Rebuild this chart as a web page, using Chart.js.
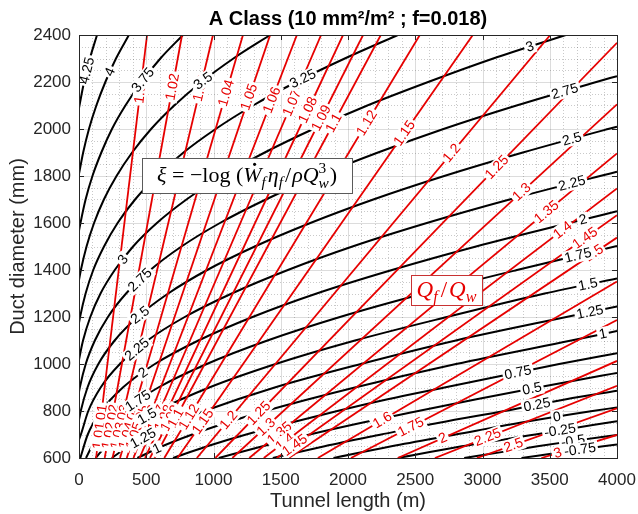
<!DOCTYPE html>
<html>
<head>
<meta charset="utf-8">
<script src="https://cdn.jsdelivr.net/npm/chart.js@4.4.1/dist/chart.umd.min.js"></script>
<style>
  html, body { margin: 0; padding: 0; background: #fff; }
  #wrap { width: 638px; height: 514px; }
</style>
</head>
<body>
<div id="wrap"><canvas id="chart" width="638" height="514"></canvas></div>
<script>
// black contours: xi = -log(W_f eta_f / rho Q_w^3), points [tunnel length m, duct diameter mm]
const xiLevels = [4.25, 4, 3.75, 3.5, 3.25, 3, 2.75, 2.5, 2.25, 2, 1.75, 1.5, 1.25, 1, 0.75, 0.5, 0.25, 0, -0.25, -0.5, -0.75];
const xiCurves = [
  [[0,2089],[20,2150],[38,2200],[81,2300],[134,2400]],
  [[0,1809],[31,1900],[74,2000],[129,2100],[196,2200],[275,2300],[371,2400]],
  [[0,1567],[11,1600],[49,1700],[100,1800],[166,1900],[245,2000],[345,2100],[464,2200],[605,2300],[773,2400]],
  [[0,1357],[14,1400],[56,1500],[112,1600],[185,1700],[279,1800],[395,1900],[536,2000],[708,2100],[911,2200],[1148,2300],[1421,2400]],
  [[0,1175],[8,1200],[49,1300],[106,1400],[186,1500],[287,1600],[417,1700],[580,1800],[777,1900],[1016,2000],[1294,2100],[1615,2200],[1976,2300],[2371,2400]],
  [[0,1017],[11,1050],[30,1100],[84,1200],[160,1300],[266,1400],[402,1500],[579,1600],[799,1700],[1066,1800],[1381,1900],[1742,2000],[2144,2100],[2596,2200],[3080,2300],[3619,2400]],
  [[0,881],[6,900],[50,1000],[118,1100],[215,1200],[350,1300],[530,1400],[762,1500],[1048,1600],[1389,1700],[1779,1800],[2223,1900],[2710,2000],[3253,2100],[3846,2200],[4000,2225]],
  [[0,763],[13,800],[63,900],[144,1000],[265,1100],[435,1200],[663,1300],[953,1400],[1307,1500],[1720,1600],[2188,1700],[2715,1800],[3300,1900],[3934,2000],[4000,2010]],
  [[0,678],[14,700],[69,800],[161,900],[304,1000],[509,1100],[786,1200],[1136,1300],[1553,1400],[2033,1500],[2586,1600],[3201,1700],[3874,1800],[4000,1818]],
  [[10,600],[65,700],[165,800],[326,900],[564,1000],[888,1100],[1290,1200],[1767,1300],[2327,1400],[2952,1500],[3645,1600],[4000,1650]],
  [[52,600],[96,650],[151,700],[228,750],[325,800],[590,900],[950,1000],[1401,1100],[1940,1200],[2564,1300],[3256,1400],[4000,1502]],
  [[124,600],[199,650],[298,700],[424,750],[578,800],[968,900],[1462,1000],[2052,1100],[2735,1200],[3462,1300],[4000,1364]],
  [[244,600],[368,650],[526,700],[713,750],[932,800],[1455,900],[2096,1000],[2802,1100],[3623,1200],[4000,1245]],
  [[434,600],[619,650],[842,700],[1097,750],[1385,800],[2051,900],[2803,1000],[3660,1100],[4000,1140]],
  [[699,600],[953,650],[1243,700],[1573,750],[1921,800],[2295,850],[2717,900],[3570,1000],[4000,1046]],
  [[1039,600],[1365,650],[1715,700],[2102,750],[2522,800],[2955,850],[3409,900],[3881,950],[4000,962]],
  [[1441,600],[1826,650],[2247,700],[2678,750],[3162,800],[3622,850],[4000,886]],
  [[1892,600],[2323,650],[2800,700],[3279,750],[3818,800],[4000,815]],
  [[2372,600],[2845,650],[3393,700],[3820,740],[4000,756]],
  [[2864,600],[3141,625],[3409,650],[3706,675],[4000,698]],
  [[3290,600],[3650,630],[4000,658]]
];
// label spots on the black contours: [level, tunnel length]
const xiLabels = [
  [4.25,59],[4,230],[3.75,476],[3.5,922],[3.25,1665],[3,3353],[3,327],
  [2.75,3613],[2.75,454],[2.5,3665],[2.5,454],[2.25,3665],[2.25,431],[2,3747],[2,476],
  [1.75,3710],[1.75,439],[1.5,3784],[1.5,506],[1.25,3799],[1.25,476],[1,3896],[1,580],
  [0.75,3264],[0.5,3368],[0.25,3405],[0,3554],[-0.25,3576],[-0.5,3673],[-0.75,3725]
];

// red contours: Q_f / Q_w, straight lines from the bottom edge to the top or right edge
const qLevels  = [1.01,1.02,1.03,1.04,1.05,1.06,1.07,1.08,1.09,1.1,1.12,1.15,1.2,1.25,1.3,1.35,1.4,1.45,1.5,1.6,1.75,2,2.25,2.5,3];
const qBottomX = [127,191,249,305,355,405,450,491,528,561,634,732,876,1014,1140,1266,1374,1470,1560,1776,2022,2370,2646,2958,3438];
const qEndX    = [506,766,996,1219,1421,1620,1800,1963,2112,2244,2534,2928,3504,4000,4000,4000,4000,4000,4000,4000,4000,4000,4000,4000,4000];
const qEndY    = [2400,2400,2400,2400,2400,2400,2400,2400,2400,2400,2400,2400,2400,2367,2105,1896,1747,1633,1538,1351,1187,1013,907,811,698];
// label spots on the red lines: [level, duct diameter]
const qLabels = [
  [1.01,2166],[1.02,2179],[1.03,2174],[1.04,2153],[1.05,2136],[1.06,2123],[1.07,2111],[1.08,2081],[1.09,2047],[1.1,2026],
  [1.12,2026],[1.15,1983],[1.2,1898],[1.25,1838],[1.3,1732],[1.35,1647],[1.4,1570],[1.45,1536],[1.5,1472],
  [1.01,770],[1.02,770],[1.03,770],[1.04,770],[1.05,770],[1.06,770],[1.07,770],[1.08,770],[1.09,770],[1.1,770],
  [1.01,695],[1.02,695],[1.03,695],[1.04,695],[1.05,695],
  [1.12,775],[1.15,755],[1.2,762],[1.25,791],[1.3,732],[1.35,706],[1.4,668],[1.45,655],
  [1.6,762],[1.75,732],[2,685],[2.25,689],[2.5,655],[3,621]
];

const xTicks = [0, 500, 1000, 1500, 2000, 2500, 3000, 3500, 4000];
const yTicks = [600, 800, 1000, 1200, 1400, 1600, 1800, 2000, 2200, 2400];

const RED = '#e60000';
const AXIS = '#262626';

const datasets = [];
qLevels.forEach((lv, i) => {
  datasets.push({
    label: 'q' + lv,
    data: [{x: qBottomX[i], y: 600}, {x: qEndX[i], y: qEndY[i]}],
    borderColor: RED, borderWidth: 1.8, pointRadius: 0, order: 1
  });
});
xiLevels.forEach((lv, i) => {
  datasets.push({
    label: 'xi' + lv,
    data: xiCurves[i].map(p => ({x: p[0], y: p[1]})),
    borderColor: '#000', borderWidth: 2, pointRadius: 0,
    cubicInterpolationMode: 'monotone', order: 2
  });
});

function pixelPath(chart, label) {
  const ds = chart.data.datasets.find(d => d.label === label);
  const sx = chart.scales.x, sy = chart.scales.y;
  return ds.data.map(p => ({x: sx.getPixelForValue(p.x), y: sy.getPixelForValue(p.y)}));
}

// position and direction on a path, found by one coordinate (key 'x' or 'y')
function spotOnPath(pts, key, v) {
  for (let i = 0; i < pts.length - 1; i++) {
    const a = pts[i], b = pts[i + 1];
    const lo = Math.min(a[key], b[key]), hi = Math.max(a[key], b[key]);
    if (v >= lo && v <= hi) {
      const t = hi === lo ? 0 : (v - a[key]) / (b[key] - a[key]);
      return {x: a.x + t * (b.x - a.x), y: a.y + t * (b.y - a.y), ang: Math.atan2(b.y - a.y, b.x - a.x)};
    }
  }
  return null;
}

function drawLabel(ctx, text, s, color) {
  ctx.save();
  ctx.translate(s.x, s.y);
  ctx.rotate(s.ang);
  ctx.font = '14px "Liberation Sans", Arial, sans-serif';
  const w = ctx.measureText(text).width;
  ctx.fillStyle = '#fff';
  ctx.fillRect(-w / 2 - 2, -7, w + 4, 14);
  ctx.fillStyle = color;
  ctx.textAlign = 'center';
  ctx.textBaseline = 'middle';
  ctx.fillText(text, 0, 0.5);
  ctx.restore();
}

function drawMath(ctx, runs, cx, base, size, color) {
  const fnt = (it, s) => (it ? 'italic ' : '') + (s * size).toFixed(1) + 'px "Liberation Serif", "DejaVu Serif", serif';
  let total = 0;
  runs.forEach(r => {
    ctx.font = fnt(r.it, r.s || 1);
    r.w = ctx.measureText(r.t).width;
    if (r.t2) { ctx.font = fnt(r.it2, r.s || 1); r.w = Math.max(r.w, ctx.measureText(r.t2).width); }
    r.w += (r.gap || 0);
    total += r.w;
  });
  let x = cx - total / 2;
  ctx.fillStyle = color;
  ctx.textAlign = 'left';
  ctx.textBaseline = 'alphabetic';
  runs.forEach(r => {
    ctx.font = fnt(r.it, r.s || 1);
    ctx.fillText(r.t, x, base + (r.dy || 0) * size);
    if (r.t2) {
      ctx.font = fnt(r.it2, r.s || 1);
      ctx.fillText(r.t2, x, base + (r.dy2 || 0) * size);
    }
    if (r.dot) {
      ctx.beginPath();
      ctx.arc(x + r.w * 0.62, base - size * 0.82, size * 0.07, 0, Math.PI * 2);
      ctx.fill();
    }
    x += r.w;
  });
}

function boxAt(chart, x0, x1, y0, y1) {
  const sx = chart.scales.x, sy = chart.scales.y;
  const l = sx.getPixelForValue(x0), r = sx.getPixelForValue(x1);
  const t = sy.getPixelForValue(y1), b = sy.getPixelForValue(y0);
  return {l, r, t, b};
}

const contourDecor = {
  id: 'contourDecor',
  beforeDatasetsDraw(chart) {
    const {ctx, chartArea: a, scales: {x: sx, y: sy}} = chart;
    ctx.save();
    ctx.lineWidth = 1;
    ctx.strokeStyle = 'rgba(38,38,38,0.25)';
    ctx.setLineDash([1, 2]);
    for (let v = 100; v < 4000; v += 100) {
      if (v % 500 === 0) continue;
      const px = Math.round(sx.getPixelForValue(v)) + 0.5;
      ctx.beginPath(); ctx.moveTo(px, a.top); ctx.lineTo(px, a.bottom); ctx.stroke();
    }
    for (let v = 650; v < 2400; v += 50) {
      if (v % 200 === 0) continue;
      const py = Math.round(sy.getPixelForValue(v)) + 0.5;
      ctx.beginPath(); ctx.moveTo(a.left, py); ctx.lineTo(a.right, py); ctx.stroke();
    }
    ctx.setLineDash([]);
    ctx.strokeStyle = 'rgba(38,38,38,0.16)';
    xTicks.forEach(v => {
      const px = Math.round(sx.getPixelForValue(v)) + 0.5;
      ctx.beginPath(); ctx.moveTo(px, a.top); ctx.lineTo(px, a.bottom); ctx.stroke();
    });
    yTicks.forEach(v => {
      const py = Math.round(sy.getPixelForValue(v)) + 0.5;
      ctx.beginPath(); ctx.moveTo(a.left, py); ctx.lineTo(a.right, py); ctx.stroke();
    });
    ctx.restore();
  },
  afterDatasetsDraw(chart) {
    const {ctx, chartArea: a, scales: {x: sx, y: sy}} = chart;
    ctx.save();
    // contour labels, red first so the black ones sit on top
    qLabels.forEach(([lv, yv]) => {
      const s = spotOnPath(pixelPath(chart, 'q' + lv), 'y', sy.getPixelForValue(yv));
      if (s) drawLabel(ctx, String(lv), s, RED);
    });
    xiLabels.forEach(([lv, xv]) => {
      const s = spotOnPath(pixelPath(chart, 'xi' + lv), 'x', sx.getPixelForValue(xv));
      if (s) drawLabel(ctx, String(lv), s, '#000');
    });

    // xi formula box
    let b = boxAt(chart, 470, 2030, 1728, 1877);
    ctx.fillStyle = '#fff';
    ctx.fillRect(b.l, b.t, b.r - b.l, b.b - b.t);
    ctx.strokeStyle = '#5a5a5a'; ctx.lineWidth = 1;
    ctx.strokeRect(Math.round(b.l) + 0.5, Math.round(b.t) + 0.5, Math.round(b.r - b.l), Math.round(b.b - b.t));
    drawMath(ctx, [
      {t: 'ξ', it: 1}, {t: ' = −'}, {t: 'log'}, {t: ' ('},
      {t: 'W', it: 1, dot: 1}, {t: 'f', it: 1, s: 0.7, dy: 0.22, gap: 2},
      {t: 'η', it: 1}, {t: 'f', it: 1, s: 0.7, dy: 0.22, gap: 2},
      {t: '/', gap: 1}, {t: 'ρQ', it: 1},
      {t: '3', s: 0.7, dy: -0.42, t2: 'w', it2: 1, dy2: 0.24, gap: 1}, {t: ')'}
    ], (b.l + b.r) / 2, (b.t + b.b) / 2 + 7, 22, '#000');

    // Q_f / Q_w box
    b = boxAt(chart, 2468, 2996, 1251, 1379);
    ctx.fillStyle = '#fff';
    ctx.fillRect(b.l, b.t, b.r - b.l, b.b - b.t);
    ctx.strokeStyle = '#c83232'; ctx.lineWidth = 1;
    ctx.strokeRect(Math.round(b.l) + 0.5, Math.round(b.t) + 0.5, Math.round(b.r - b.l), Math.round(b.b - b.t));
    drawMath(ctx, [
      {t: 'Q', it: 1}, {t: 'f', it: 1, s: 0.7, dy: 0.22, gap: 3}, {t: '/', gap: 2},
      {t: 'Q', it: 1}, {t: 'w', it: 1, s: 0.7, dy: 0.22}
    ], (b.l + b.r) / 2, (b.t + b.b) / 2 + 7, 23, RED);

    // axes box with inward ticks
    ctx.strokeStyle = AXIS; ctx.lineWidth = 1;
    ctx.strokeRect(Math.round(a.left) + 0.5, Math.round(a.top) + 0.5, Math.round(a.right - a.left), Math.round(a.bottom - a.top));
    ctx.beginPath();
    xTicks.forEach(v => {
      const px = Math.round(sx.getPixelForValue(v)) + 0.5;
      ctx.moveTo(px, a.bottom); ctx.lineTo(px, a.bottom - 5);
      ctx.moveTo(px, a.top); ctx.lineTo(px, a.top + 5);
    });
    yTicks.forEach(v => {
      const py = Math.round(sy.getPixelForValue(v)) + 0.5;
      ctx.moveTo(a.left, py); ctx.lineTo(a.left + 5, py);
      ctx.moveTo(a.right, py); ctx.lineTo(a.right - 5, py);
    });
    ctx.stroke();
    ctx.restore();
  }
};

const tickFont = {family: '"Liberation Sans", Arial, sans-serif', size: 17};
const titleFont = {family: '"Liberation Sans", Arial, sans-serif', size: 20};

new Chart(document.getElementById('chart'), {
  type: 'line',
  data: {datasets},
  options: {
    responsive: false,
    animation: false,
    events: [],
    layout: {padding: {left: 0, right: 21, top: 0, bottom: 0}},
    plugins: {
      legend: {display: false},
      tooltip: {enabled: false},
      title: {
        display: true,
        fullSize: false,
        text: 'A Class (10 mm²/m² ; f=0.018)',
        color: '#000',
        font: {family: '"Liberation Sans", Arial, sans-serif', size: 20, weight: 'bold'},
        padding: {top: 7, bottom: 4}
      }
    },
    scales: {
      x: {
        type: 'linear', min: 0, max: 4000,
        afterBuildTicks(s) { s.ticks = xTicks.map(v => ({value: v})); },
        ticks: {font: tickFont, color: AXIS, padding: 12, maxRotation: 0, autoSkip: false, callback: v => String(v)},
        grid: {display: false, drawTicks: false},
        border: {display: false},
        title: {display: true, text: 'Tunnel length (m)', color: AXIS, font: titleFont, padding: {top: 0, bottom: 1}},
        afterFit(s) { s.height = 56; s.paddingLeft = 0; s.paddingRight = 0; }
      },
      y: {
        type: 'linear', min: 600, max: 2400,
        afterBuildTicks(s) { s.ticks = yTicks.map(v => ({value: v})); },
        ticks: {font: tickFont, color: AXIS, padding: 8, autoSkip: false, callback: v => String(v)},
        grid: {display: false, drawTicks: false},
        border: {display: false},
        title: {display: true, text: 'Duct diameter (mm)', color: AXIS, font: titleFont, padding: {top: 6, bottom: 0}},
        afterFit(s) { s.width = 79; }
      }
    }
  },
  plugins: [contourDecor]
});
</script>
</body>
</html>
